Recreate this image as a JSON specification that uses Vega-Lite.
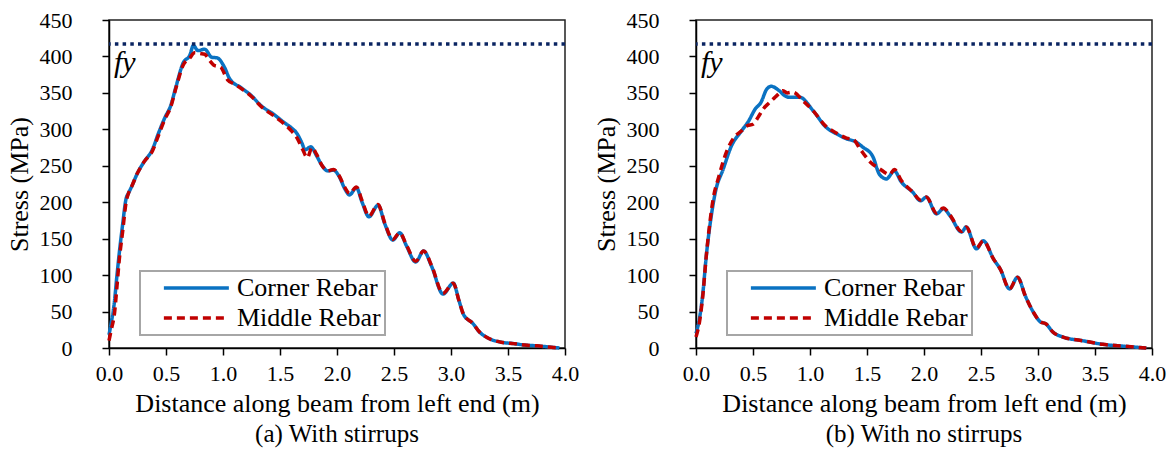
{
  "$schema": "https://vega.github.io/schema/vega-lite/v6.json",
  "padding": {"left": 5, "top": 8, "right": 3, "bottom": 2},
  "background": "white",
  "datasets": {
    "curves": [
      {"panel":"a","series":"Corner Rebar","x":0,"y":18},{"panel":"a","series":"Corner Rebar","x":0.02,"y":35},{"panel":"a","series":"Corner Rebar","x":0.045,"y":60},{"panel":"a","series":"Corner Rebar","x":0.07,"y":100},{"panel":"a","series":"Corner Rebar","x":0.09,"y":130},{"panel":"a","series":"Corner Rebar","x":0.12,"y":170},{"panel":"a","series":"Corner Rebar","x":0.15,"y":205},{"panel":"a","series":"Corner Rebar","x":0.17,"y":212},{"panel":"a","series":"Corner Rebar","x":0.2,"y":222},{"panel":"a","series":"Corner Rebar","x":0.25,"y":240},{"panel":"a","series":"Corner Rebar","x":0.31,"y":256},{"panel":"a","series":"Corner Rebar","x":0.38,"y":272},{"panel":"a","series":"Corner Rebar","x":0.43,"y":293},{"panel":"a","series":"Corner Rebar","x":0.49,"y":316},{"panel":"a","series":"Corner Rebar","x":0.54,"y":332},{"panel":"a","series":"Corner Rebar","x":0.59,"y":360},{"panel":"a","series":"Corner Rebar","x":0.65,"y":391},{"panel":"a","series":"Corner Rebar","x":0.71,"y":402},{"panel":"a","series":"Corner Rebar","x":0.74,"y":415},{"panel":"a","series":"Corner Rebar","x":0.78,"y":408},{"panel":"a","series":"Corner Rebar","x":0.84,"y":410},{"panel":"a","series":"Corner Rebar","x":0.9,"y":399},{"panel":"a","series":"Corner Rebar","x":0.95,"y":398},{"panel":"a","series":"Corner Rebar","x":1.01,"y":386},{"panel":"a","series":"Corner Rebar","x":1.06,"y":369},{"panel":"a","series":"Corner Rebar","x":1.16,"y":357},{"panel":"a","series":"Corner Rebar","x":1.25,"y":346},{"panel":"a","series":"Corner Rebar","x":1.33,"y":333},{"panel":"a","series":"Corner Rebar","x":1.45,"y":320},{"panel":"a","series":"Corner Rebar","x":1.54,"y":309},{"panel":"a","series":"Corner Rebar","x":1.6,"y":302},{"panel":"a","series":"Corner Rebar","x":1.65,"y":294},{"panel":"a","series":"Corner Rebar","x":1.69,"y":282},{"panel":"a","series":"Corner Rebar","x":1.72,"y":272},{"panel":"a","series":"Corner Rebar","x":1.77,"y":276},{"panel":"a","series":"Corner Rebar","x":1.82,"y":264},{"panel":"a","series":"Corner Rebar","x":1.87,"y":250},{"panel":"a","series":"Corner Rebar","x":1.92,"y":243},{"panel":"a","series":"Corner Rebar","x":1.97,"y":244},{"panel":"a","series":"Corner Rebar","x":2.02,"y":235},{"panel":"a","series":"Corner Rebar","x":2.07,"y":218},{"panel":"a","series":"Corner Rebar","x":2.11,"y":210},{"panel":"a","series":"Corner Rebar","x":2.17,"y":220},{"panel":"a","series":"Corner Rebar","x":2.22,"y":200},{"panel":"a","series":"Corner Rebar","x":2.28,"y":180},{"panel":"a","series":"Corner Rebar","x":2.36,"y":196},{"panel":"a","series":"Corner Rebar","x":2.42,"y":170},{"panel":"a","series":"Corner Rebar","x":2.49,"y":148},{"panel":"a","series":"Corner Rebar","x":2.55,"y":158},{"panel":"a","series":"Corner Rebar","x":2.61,"y":140},{"panel":"a","series":"Corner Rebar","x":2.69,"y":118},{"panel":"a","series":"Corner Rebar","x":2.76,"y":133},{"panel":"a","series":"Corner Rebar","x":2.83,"y":112},{"panel":"a","series":"Corner Rebar","x":2.93,"y":74},{"panel":"a","series":"Corner Rebar","x":3.02,"y":89},{"panel":"a","series":"Corner Rebar","x":3.07,"y":65},{"panel":"a","series":"Corner Rebar","x":3.11,"y":46},{"panel":"a","series":"Corner Rebar","x":3.19,"y":34},{"panel":"a","series":"Corner Rebar","x":3.25,"y":22},{"panel":"a","series":"Corner Rebar","x":3.32,"y":14},{"panel":"a","series":"Corner Rebar","x":3.44,"y":8},{"panel":"a","series":"Corner Rebar","x":3.55,"y":6},{"panel":"a","series":"Corner Rebar","x":3.65,"y":4},{"panel":"a","series":"Corner Rebar","x":3.75,"y":3},{"panel":"a","series":"Corner Rebar","x":3.85,"y":1.5},{"panel":"a","series":"Corner Rebar","x":3.95,"y":0},
      {"panel":"a","series":"Middle Rebar","x":0,"y":10},{"panel":"a","series":"Middle Rebar","x":0.02,"y":25},{"panel":"a","series":"Middle Rebar","x":0.05,"y":50},{"panel":"a","series":"Middle Rebar","x":0.07,"y":85},{"panel":"a","series":"Middle Rebar","x":0.09,"y":121},{"panel":"a","series":"Middle Rebar","x":0.12,"y":160},{"panel":"a","series":"Middle Rebar","x":0.15,"y":200},{"panel":"a","series":"Middle Rebar","x":0.17,"y":212},{"panel":"a","series":"Middle Rebar","x":0.2,"y":222},{"panel":"a","series":"Middle Rebar","x":0.25,"y":240},{"panel":"a","series":"Middle Rebar","x":0.31,"y":256},{"panel":"a","series":"Middle Rebar","x":0.38,"y":270},{"panel":"a","series":"Middle Rebar","x":0.43,"y":290},{"panel":"a","series":"Middle Rebar","x":0.49,"y":314},{"panel":"a","series":"Middle Rebar","x":0.54,"y":330},{"panel":"a","series":"Middle Rebar","x":0.59,"y":358},{"panel":"a","series":"Middle Rebar","x":0.65,"y":388},{"panel":"a","series":"Middle Rebar","x":0.71,"y":398},{"panel":"a","series":"Middle Rebar","x":0.75,"y":405},{"panel":"a","series":"Middle Rebar","x":0.8,"y":404},{"panel":"a","series":"Middle Rebar","x":0.84,"y":403},{"panel":"a","series":"Middle Rebar","x":0.88,"y":395},{"panel":"a","series":"Middle Rebar","x":0.92,"y":388},{"panel":"a","series":"Middle Rebar","x":0.98,"y":385},{"panel":"a","series":"Middle Rebar","x":1.04,"y":368},{"panel":"a","series":"Middle Rebar","x":1.1,"y":362},{"panel":"a","series":"Middle Rebar","x":1.16,"y":356},{"panel":"a","series":"Middle Rebar","x":1.25,"y":345},{"panel":"a","series":"Middle Rebar","x":1.33,"y":332},{"panel":"a","series":"Middle Rebar","x":1.45,"y":318},{"panel":"a","series":"Middle Rebar","x":1.54,"y":307},{"panel":"a","series":"Middle Rebar","x":1.6,"y":298},{"panel":"a","series":"Middle Rebar","x":1.65,"y":288},{"panel":"a","series":"Middle Rebar","x":1.7,"y":272},{"panel":"a","series":"Middle Rebar","x":1.74,"y":261},{"panel":"a","series":"Middle Rebar","x":1.78,"y":275},{"panel":"a","series":"Middle Rebar","x":1.82,"y":266},{"panel":"a","series":"Middle Rebar","x":1.87,"y":250},{"panel":"a","series":"Middle Rebar","x":1.92,"y":243},{"panel":"a","series":"Middle Rebar","x":1.97,"y":245},{"panel":"a","series":"Middle Rebar","x":2.02,"y":236},{"panel":"a","series":"Middle Rebar","x":2.07,"y":220},{"panel":"a","series":"Middle Rebar","x":2.11,"y":212},{"panel":"a","series":"Middle Rebar","x":2.17,"y":221},{"panel":"a","series":"Middle Rebar","x":2.22,"y":202},{"panel":"a","series":"Middle Rebar","x":2.28,"y":181},{"panel":"a","series":"Middle Rebar","x":2.36,"y":197},{"panel":"a","series":"Middle Rebar","x":2.42,"y":171},{"panel":"a","series":"Middle Rebar","x":2.49,"y":149},{"panel":"a","series":"Middle Rebar","x":2.55,"y":158},{"panel":"a","series":"Middle Rebar","x":2.61,"y":141},{"panel":"a","series":"Middle Rebar","x":2.69,"y":119},{"panel":"a","series":"Middle Rebar","x":2.76,"y":133},{"panel":"a","series":"Middle Rebar","x":2.83,"y":113},{"panel":"a","series":"Middle Rebar","x":2.93,"y":75},{"panel":"a","series":"Middle Rebar","x":3.02,"y":89},{"panel":"a","series":"Middle Rebar","x":3.07,"y":65},{"panel":"a","series":"Middle Rebar","x":3.11,"y":46},{"panel":"a","series":"Middle Rebar","x":3.19,"y":34},{"panel":"a","series":"Middle Rebar","x":3.25,"y":22},{"panel":"a","series":"Middle Rebar","x":3.32,"y":14},{"panel":"a","series":"Middle Rebar","x":3.44,"y":8},{"panel":"a","series":"Middle Rebar","x":3.55,"y":6},{"panel":"a","series":"Middle Rebar","x":3.65,"y":4},{"panel":"a","series":"Middle Rebar","x":3.75,"y":3},{"panel":"a","series":"Middle Rebar","x":3.85,"y":1.5},{"panel":"a","series":"Middle Rebar","x":3.95,"y":0},
      {"panel":"b","series":"Corner Rebar","x":0,"y":20},{"panel":"b","series":"Corner Rebar","x":0.03,"y":40},{"panel":"b","series":"Corner Rebar","x":0.06,"y":75},{"panel":"b","series":"Corner Rebar","x":0.09,"y":126},{"panel":"b","series":"Corner Rebar","x":0.13,"y":177},{"panel":"b","series":"Corner Rebar","x":0.17,"y":214},{"panel":"b","series":"Corner Rebar","x":0.24,"y":246},{"panel":"b","series":"Corner Rebar","x":0.31,"y":277},{"panel":"b","series":"Corner Rebar","x":0.4,"y":298},{"panel":"b","series":"Corner Rebar","x":0.46,"y":311},{"panel":"b","series":"Corner Rebar","x":0.52,"y":328},{"panel":"b","series":"Corner Rebar","x":0.57,"y":337},{"panel":"b","series":"Corner Rebar","x":0.62,"y":355},{"panel":"b","series":"Corner Rebar","x":0.66,"y":359},{"panel":"b","series":"Corner Rebar","x":0.73,"y":353},{"panel":"b","series":"Corner Rebar","x":0.78,"y":346},{"panel":"b","series":"Corner Rebar","x":0.82,"y":344},{"panel":"b","series":"Corner Rebar","x":0.91,"y":344},{"panel":"b","series":"Corner Rebar","x":1.03,"y":325},{"panel":"b","series":"Corner Rebar","x":1.14,"y":303},{"panel":"b","series":"Corner Rebar","x":1.23,"y":294},{"panel":"b","series":"Corner Rebar","x":1.32,"y":287},{"panel":"b","series":"Corner Rebar","x":1.4,"y":283},{"panel":"b","series":"Corner Rebar","x":1.46,"y":276},{"panel":"b","series":"Corner Rebar","x":1.55,"y":263},{"panel":"b","series":"Corner Rebar","x":1.61,"y":238},{"panel":"b","series":"Corner Rebar","x":1.67,"y":232},{"panel":"b","series":"Corner Rebar","x":1.74,"y":243},{"panel":"b","series":"Corner Rebar","x":1.8,"y":228},{"panel":"b","series":"Corner Rebar","x":1.9,"y":214},{"panel":"b","series":"Corner Rebar","x":1.97,"y":202},{"panel":"b","series":"Corner Rebar","x":2.02,"y":207},{"panel":"b","series":"Corner Rebar","x":2.11,"y":184},{"panel":"b","series":"Corner Rebar","x":2.17,"y":191},{"panel":"b","series":"Corner Rebar","x":2.23,"y":181},{"panel":"b","series":"Corner Rebar","x":2.33,"y":159},{"panel":"b","series":"Corner Rebar","x":2.37,"y":166},{"panel":"b","series":"Corner Rebar","x":2.46,"y":136},{"panel":"b","series":"Corner Rebar","x":2.52,"y":147},{"panel":"b","series":"Corner Rebar","x":2.61,"y":122},{"panel":"b","series":"Corner Rebar","x":2.67,"y":108},{"panel":"b","series":"Corner Rebar","x":2.75,"y":81},{"panel":"b","series":"Corner Rebar","x":2.82,"y":97},{"panel":"b","series":"Corner Rebar","x":2.89,"y":71},{"panel":"b","series":"Corner Rebar","x":2.96,"y":49},{"panel":"b","series":"Corner Rebar","x":3.02,"y":36},{"panel":"b","series":"Corner Rebar","x":3.07,"y":33},{"panel":"b","series":"Corner Rebar","x":3.13,"y":22},{"panel":"b","series":"Corner Rebar","x":3.22,"y":15},{"panel":"b","series":"Corner Rebar","x":3.39,"y":10},{"panel":"b","series":"Corner Rebar","x":3.57,"y":5},{"panel":"b","series":"Corner Rebar","x":3.75,"y":2.5},{"panel":"b","series":"Corner Rebar","x":3.95,"y":0},
      {"panel":"b","series":"Middle Rebar","x":0,"y":15},{"panel":"b","series":"Middle Rebar","x":0.03,"y":35},{"panel":"b","series":"Middle Rebar","x":0.06,"y":72},{"panel":"b","series":"Middle Rebar","x":0.09,"y":126},{"panel":"b","series":"Middle Rebar","x":0.12,"y":170},{"panel":"b","series":"Middle Rebar","x":0.15,"y":204},{"panel":"b","series":"Middle Rebar","x":0.2,"y":235},{"panel":"b","series":"Middle Rebar","x":0.27,"y":270},{"panel":"b","series":"Middle Rebar","x":0.33,"y":288},{"panel":"b","series":"Middle Rebar","x":0.4,"y":298},{"panel":"b","series":"Middle Rebar","x":0.45,"y":305},{"panel":"b","series":"Middle Rebar","x":0.5,"y":307},{"panel":"b","series":"Middle Rebar","x":0.55,"y":318},{"panel":"b","series":"Middle Rebar","x":0.59,"y":328},{"panel":"b","series":"Middle Rebar","x":0.64,"y":336},{"panel":"b","series":"Middle Rebar","x":0.68,"y":342},{"panel":"b","series":"Middle Rebar","x":0.72,"y":348},{"panel":"b","series":"Middle Rebar","x":0.76,"y":353},{"panel":"b","series":"Middle Rebar","x":0.8,"y":350},{"panel":"b","series":"Middle Rebar","x":0.85,"y":351},{"panel":"b","series":"Middle Rebar","x":0.94,"y":339},{"panel":"b","series":"Middle Rebar","x":1.03,"y":325},{"panel":"b","series":"Middle Rebar","x":1.14,"y":304},{"panel":"b","series":"Middle Rebar","x":1.23,"y":295},{"panel":"b","series":"Middle Rebar","x":1.32,"y":288},{"panel":"b","series":"Middle Rebar","x":1.38,"y":286},{"panel":"b","series":"Middle Rebar","x":1.44,"y":273},{"panel":"b","series":"Middle Rebar","x":1.53,"y":255},{"panel":"b","series":"Middle Rebar","x":1.61,"y":246},{"panel":"b","series":"Middle Rebar","x":1.7,"y":238},{"panel":"b","series":"Middle Rebar","x":1.74,"y":245},{"panel":"b","series":"Middle Rebar","x":1.8,"y":230},{"panel":"b","series":"Middle Rebar","x":1.9,"y":214},{"panel":"b","series":"Middle Rebar","x":1.97,"y":203},{"panel":"b","series":"Middle Rebar","x":2.02,"y":207},{"panel":"b","series":"Middle Rebar","x":2.11,"y":185},{"panel":"b","series":"Middle Rebar","x":2.17,"y":192},{"panel":"b","series":"Middle Rebar","x":2.23,"y":182},{"panel":"b","series":"Middle Rebar","x":2.33,"y":160},{"panel":"b","series":"Middle Rebar","x":2.37,"y":166},{"panel":"b","series":"Middle Rebar","x":2.46,"y":137},{"panel":"b","series":"Middle Rebar","x":2.52,"y":147},{"panel":"b","series":"Middle Rebar","x":2.61,"y":122},{"panel":"b","series":"Middle Rebar","x":2.67,"y":108},{"panel":"b","series":"Middle Rebar","x":2.75,"y":81},{"panel":"b","series":"Middle Rebar","x":2.82,"y":97},{"panel":"b","series":"Middle Rebar","x":2.89,"y":71},{"panel":"b","series":"Middle Rebar","x":2.96,"y":49},{"panel":"b","series":"Middle Rebar","x":3.02,"y":36},{"panel":"b","series":"Middle Rebar","x":3.07,"y":33},{"panel":"b","series":"Middle Rebar","x":3.13,"y":22},{"panel":"b","series":"Middle Rebar","x":3.22,"y":15},{"panel":"b","series":"Middle Rebar","x":3.39,"y":10},{"panel":"b","series":"Middle Rebar","x":3.57,"y":5},{"panel":"b","series":"Middle Rebar","x":3.75,"y":2.5},{"panel":"b","series":"Middle Rebar","x":3.95,"y":0}
    ],
    "yield": [{"fy": 417, "label": "fy"}]
  },
  "spacing": 12,
  "resolve": {
    "scale": {"color": "independent", "strokeDash": "independent"},
    "legend": {"color": "independent", "strokeDash": "independent"}
  },
  "hconcat": [
    {
      "width": 456, "height": 328,
      "title": {"text": "(a) With stirrups", "orient": "bottom", "anchor": "middle", "offset": 6},
      "layer": [
        {
          "data": {"name": "curves"},
          "transform": [{"filter": "datum.panel === 'a'"}],
          "mark": {"type": "line", "strokeWidth": 3.5, "interpolate": "monotone"},
          "encoding": {
            "x": {"field": "x", "type": "quantitative", "scale": {"domain": [0, 4], "nice": false}, "axis": {"values": [0,0.5,1,1.5,2,2.5,3,3.5,4], "format": ".1f", "title": "Distance along beam from left end (m)"}},
            "y": {"field": "y", "type": "quantitative", "scale": {"domain": [0, 450], "nice": false}, "axis": {"values": [0,50,100,150,200,250,300,350,400,450], "tickCount": 10, "labelOverlap": false, "labelPadding": 30, "titlePadding": 7, "title": "Stress (MPa)", "encode": {"labels": {"update": {"dx": {"value": -11}}}}}},
            "color": {"field": "series", "type": "nominal", "scale": {"domain": ["Corner Rebar", "Middle Rebar"], "range": ["#0a72c2", "#c00000"]}, "legend": {"orient": "none", "legendX": 31, "legendY": 251}},
            "strokeDash": {"field": "series", "type": "nominal", "scale": {"domain": ["Corner Rebar", "Middle Rebar"], "range": [[1, 0], [8, 5]]}, "legend": {"orient": "none", "legendX": 31, "legendY": 251}}
          }
        },
        {
          "data": {"name": "yield"},
          "mark": {"type": "rule", "color": "#0a2461", "strokeWidth": 3.5, "strokeDash": [3.5, 4.2]},
          "encoding": {"y": {"field": "fy", "type": "quantitative"}}
        },
        {
          "data": {"name": "yield"},
          "mark": {"type": "text", "font": "Liberation Serif", "fontStyle": "italic", "fontSize": 30, "align": "left", "baseline": "middle", "dx": 5, "dy": 19, "color": "black"},
          "encoding": {"x": {"datum": 0, "type": "quantitative"}, "y": {"field": "fy", "type": "quantitative"}, "text": {"field": "label"}}
        }
      ]
    },
    {
      "width": 456, "height": 328,
      "title": {"text": "(b) With no stirrups", "orient": "bottom", "anchor": "middle", "offset": 6},
      "layer": [
        {
          "data": {"name": "curves"},
          "transform": [{"filter": "datum.panel === 'b'"}],
          "mark": {"type": "line", "strokeWidth": 3.5, "interpolate": "monotone"},
          "encoding": {
            "x": {"field": "x", "type": "quantitative", "scale": {"domain": [0, 4], "nice": false}, "axis": {"values": [0,0.5,1,1.5,2,2.5,3,3.5,4], "format": ".1f", "title": "Distance along beam from left end (m)"}},
            "y": {"field": "y", "type": "quantitative", "scale": {"domain": [0, 450], "nice": false}, "axis": {"values": [0,50,100,150,200,250,300,350,400,450], "tickCount": 10, "labelOverlap": false, "labelPadding": 30, "titlePadding": 7, "title": "Stress (MPa)", "encode": {"labels": {"update": {"dx": {"value": -11}}}}}},
            "color": {"field": "series", "type": "nominal", "scale": {"domain": ["Corner Rebar", "Middle Rebar"], "range": ["#0a72c2", "#c00000"]}, "legend": {"orient": "none", "legendX": 31, "legendY": 251}},
            "strokeDash": {"field": "series", "type": "nominal", "scale": {"domain": ["Corner Rebar", "Middle Rebar"], "range": [[1, 0], [8, 5]]}, "legend": {"orient": "none", "legendX": 31, "legendY": 251}}
          }
        },
        {
          "data": {"name": "yield"},
          "mark": {"type": "rule", "color": "#0a2461", "strokeWidth": 3.5, "strokeDash": [3.5, 4.2]},
          "encoding": {"y": {"field": "fy", "type": "quantitative"}}
        },
        {
          "data": {"name": "yield"},
          "mark": {"type": "text", "font": "Liberation Serif", "fontStyle": "italic", "fontSize": 30, "align": "left", "baseline": "middle", "dx": 5, "dy": 19, "color": "black"},
          "encoding": {"x": {"datum": 0, "type": "quantitative"}, "y": {"field": "fy", "type": "quantitative"}, "text": {"field": "label"}}
        }
      ]
    }
  ],
  "config": {
    "font": "Liberation Serif",
    "view": {"stroke": "#222222", "strokeWidth": 1.5},
    "axis": {"labelFont": "Liberation Serif", "labelFontSize": 22, "labelColor": "black", "titleFont": "Liberation Serif", "titleFontWeight": "normal", "titleColor": "black", "domainColor": "black", "domainWidth": 1.5, "tickColor": "black", "tickWidth": 1.5, "tickSize": 7, "grid": false, "labelOverlap": false, "labelFlush": false},
    "axisX": {"labelPadding": 8, "titlePadding": 6, "titleFontSize": 26},
    "axisY": {"titleFontSize": 26},
    "title": {"font": "Liberation Serif", "fontSize": 25, "fontWeight": "normal", "color": "black"},
    "legend": {"title": null, "symbolType": "M-1,0H7", "symbolSize": 264, "symbolStrokeWidth": 3.5, "labelFont": "Liberation Serif", "labelFontSize": 26, "labelColor": "black", "padding": 4, "rowPadding": 4, "labelOffset": 52, "strokeColor": "#a6a6a6", "strokeWidth": 2, "fillColor": "white", "symbolOffset": 15}
  }
}
